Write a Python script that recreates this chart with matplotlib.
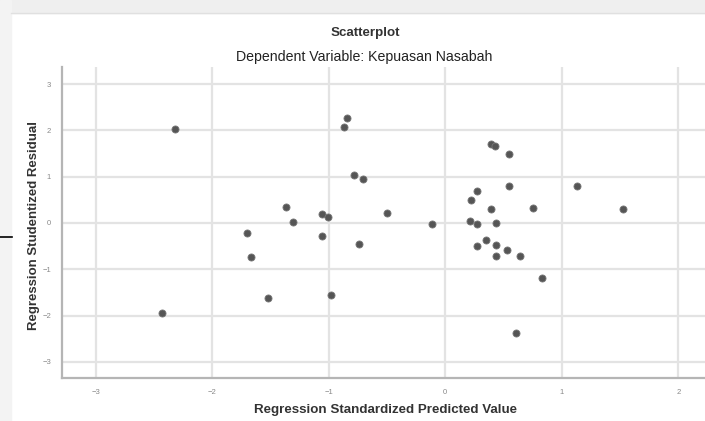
import numpy as np
import matplotlib.pyplot as plt
from matplotlib.lines import Line2D
from matplotlib.patches import Rectangle

plt.rcParams["font.family"] = ["Liberation Sans", "DejaVu Sans"]

# Regression standardized predicted value (x) vs studentized residual (y)
pred = [-2.32, -2.43, -1.70, -1.67, -1.52, -1.37, -1.31, -1.06, -1.01, -1.06,
        -0.98, -0.84, -0.87, -0.78, -0.71, -0.74, -0.50, -0.11,
        0.39, 0.43, 0.55, 0.55, 1.13, 0.27, 0.22, 0.39, 0.75, 1.53,
        0.21, 0.27, 0.44, 0.35, 0.27, 0.44, 0.53, 0.44, 0.64, 0.83, 0.61]
resid = [2.03, -1.95, -0.22, -0.73, -1.62, 0.35, 0.02, 0.19, 0.13, -0.28,
         -1.56, 2.27, 2.07, 1.03, 0.94, -0.45, 0.21, -0.03,
         1.71, 1.66, 1.50, 0.80, 0.80, 0.68, 0.49, 0.31, 0.32, 0.31,
         0.04, -0.03, 0.01, -0.36, -0.50, -0.47, -0.59, -0.71, -0.71, -1.20, -2.37]

xticks = [-3, -2, -1, 0, 1, 2]
yticks = [-3, -2, -1, 0, 1, 2, 3]

fig = plt.figure(figsize=(7.05, 4.21), dpi=100)
W, H = 705, 421

# gray window frame at top and left
fig.patches.append(Rectangle((0, 1 - 13 / H), 1, 13 / H, transform=fig.transFigure,
                             color="#efefef", zorder=0))
fig.patches.append(Rectangle((0, 0), 11 / W, 1, transform=fig.transFigure,
                             color="#f3f3f3", zorder=0))
fig.add_artist(Line2D([11 / W, 1], [1 - 13 / H, 1 - 13 / H], transform=fig.transFigure,
                      color="#e0e0e0", lw=1))
fig.add_artist(Line2D([0, 12 / W], [1 - 237 / H, 1 - 237 / H], transform=fig.transFigure,
                      color="black", lw=1.2))

ax = fig.add_axes([62 / W, 1 - 378 / H, (W - 62) / W, (378 - 67) / H])
ax.set_xlim(-3.29, 2.23)
ax.set_ylim(-3.35, 3.37)

ax.grid(True, color="#e3e3e3", lw=1.6)
ax.set_axisbelow(True)
ax.scatter(pred, resid, s=26, color="#555555", edgecolors="#777777", linewidths=0.6, zorder=3)

ax.set_xticks(xticks)
ax.set_yticks(yticks)
ax.tick_params(length=0, labelsize=5.5, labelcolor="#888888", pad=8)
for side in ["top", "right"]:
    ax.spines[side].set_visible(False)
for side in ["left", "bottom"]:
    ax.spines[side].set_color("#b5b5b5")
    ax.spines[side].set_linewidth(1.6)

fig.text(365 / W, 1 - 33 / H, "Scatterplot", ha="center", va="center",
         fontsize=9.6, fontweight="bold", color="#333333")
fig.text(364 / W, 1 - 57 / H, "Dependent Variable: Kepuasan Nasabah", ha="center",
         va="center", fontsize=10.2, color="#222222")
fig.text(386 / W, 1 - 410 / H, "Regression Standardized Predicted Value", ha="center",
         va="center", fontsize=9.6, fontweight="bold", color="#333333")
fig.text(34 / W, 1 - 226 / H, "Regression Studentized Residual", ha="center",
         va="center", rotation=90, fontsize=9.5, fontweight="bold", color="#333333")

fig.savefig("out.png", dpi=100, facecolor="white")
